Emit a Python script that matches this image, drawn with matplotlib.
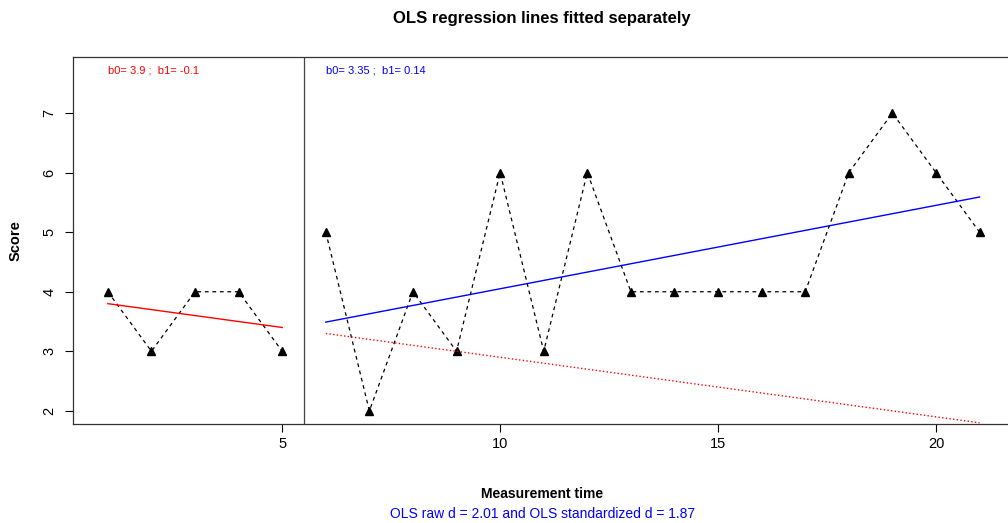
import numpy as np
import matplotlib.pyplot as plt

plt.rcParams['font.family'] = ['Liberation Sans', 'DejaVu Sans']

# measurements per phase
time_a = [1, 2, 3, 4, 5]
score_a = [4, 3, 4, 4, 3]
time_b = [6, 7, 8, 9, 10, 11, 12, 13, 14, 15, 16, 17, 18, 19, 20, 21]
score_b = [5, 2, 4, 3, 6, 3, 6, 4, 4, 4, 4, 4, 6, 7, 6, 5]

# OLS coefficients (time counted from 1 inside each phase)
b0_a, b1_a = 3.9, -0.1
b0_b, b1_b = 3.35, 0.14

ta = np.array(time_a)
tb = np.array(time_b)
fit_a = b0_a + b1_a * (ta - ta[0] + 1)
fit_b = b0_b + b1_b * (tb - tb[0] + 1)
proj_a = b0_a + b1_a * (tb - ta[0] + 1)

fig = plt.figure(figsize=(10.08, 5.23), dpi=100)
ax = fig.add_axes([0.0724, 0.1893, 0.934, 0.7017])

ax.plot(time_a, score_a, "k--", lw=0.9, marker="^", ms=6, dashes=(3, 3))
ax.plot(time_b, score_b, "k--", lw=0.9, marker="^", ms=6, dashes=(3, 3))
ax.plot(ta, fit_a, color="red", lw=1)
ax.plot(tb, proj_a, color="red", lw=1, ls=":")
ax.plot(tb, fit_b, color="blue", lw=1)
ax.axvline(5.5, color="#444444", lw=0.9)

ax.text(1, 7.72, "b0= %s ;  b1= %s" % (b0_a, b1_a), color="red", fontsize=8, va="center")
ax.text(6, 7.72, "b0= %s ;  b1= %s" % (b0_b, b1_b), color="blue", fontsize=8, va="center")

ax.set_xlim(0.2, 21.8)
ax.set_ylim(1.78, 7.94)
ax.set_xticks([5, 10, 15, 20])
ax.set_yticks([2, 3, 4, 5, 6, 7])
ax.tick_params(labelsize=10.5, length=6, width=0.8)
ax.tick_params(axis="y", pad=6)
for lab in ax.get_yticklabels():
    lab.set_rotation(90)
    lab.set_va("center")
for s in ax.spines.values():
    s.set_linewidth(0.9)
    s.set_color("#333333")

ax.set_ylabel("Score", fontweight="bold", fontsize=10.5, labelpad=14)
fig.text(0.538, 0.965, "OLS regression lines fitted separately", ha="center", va="center",
         fontweight="bold", fontsize=12)
fig.text(0.538, 0.055, "Measurement time", ha="center", va="center", fontweight="bold", fontsize=10)
fig.text(0.538, 0.018, "OLS raw d = 2.01 and OLS standardized d = 1.87", ha="center",
         va="center", color="blue", fontsize=10)

fig.savefig("out.png", dpi=100)
